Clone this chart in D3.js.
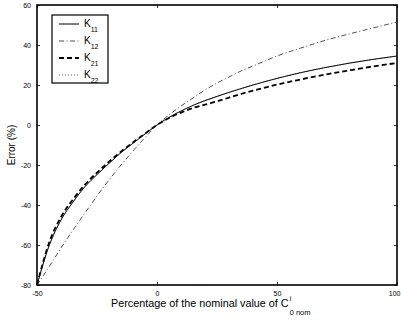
<!DOCTYPE html>
<html>
<head>
<meta charset="utf-8">
<script src="https://cdn.jsdelivr.net/npm/d3@7"></script>
<style>
  html, body { margin: 0; padding: 0; background: #fff; }
  svg { display: block; font-family: "Liberation Sans", Arial, sans-serif; }
</style>
</head>
<body>
<div id="chart"></div>
<script>
// percentage of nominal value (x) and error (%) per gain
const xs  = [-50, -45, -40, -35, -30, -25, -20, -15, -10, -5, 0, 5, 10, 15, 20, 25, 30, 35, 40, 45, 50, 60, 70, 80, 90, 100];
const k11 = [-80, -60.5, -47.5, -38.5, -30.8, -24.8, -19.2, -13.8, -9.1, -4.5, 0, 3.8, 7, 9.8, 12.2, 14.3, 16.3, 18.2, 20, 21.7, 23.3, 26.2, 28.7, 30.9, 32.8, 34.5];
const k12 = [-80, -71, -61.5, -52.5, -44, -35.5, -27.5, -20, -13, -6.3, 0, 5, 9.5, 13.5, 17.5, 21, 24, 27, 29.5, 32, 34.5, 38.5, 42.3, 45.5, 48.5, 51.5];
const k21 = [-80, -59, -46, -37.2, -29.8, -23.8, -18.4, -13.3, -8.7, -4.3, 0, 3.5, 6.2, 8.5, 10.2, 11.8, 13.7, 15.5, 17.2, 18.7, 20.2, 22.8, 25.2, 27.3, 29.3, 31];
const k22 = [-80, -60.5, -47.5, -38.5, -30.8, -24.8, -19.2, -13.8, -9.1, -4.5, 0, 3.8, 7, 9.8, 12.2, 14.3, 16.3, 18.2, 20, 21.7, 23.3, 26.2, 28.7, 30.9, 32.8, 34.5];

const xTicks = [-50, 0, 50, 100];
const yTicks = [-80, -60, -40, -20, 0, 20, 40, 60];

const series = [
  { name: '11', values: k11, dash: null, width: 1, color: '#000' },
  { name: '12', values: k12, dash: '5,2.5,1,2.5', width: 0.8, color: '#222' },
  { name: '21', values: k21, dash: '5,3', width: 1.8, color: '#000' },
  { name: '22', values: k22, dash: '1,2', width: 0.8, color: '#333' }
];

const W = 401, H = 323;
const margin = { top: 5, right: 4, bottom: 38, left: 37 };

const svg = d3.select('#chart').append('svg')
  .attr('width', W)
  .attr('height', H);

const x = d3.scaleLinear().domain([-50, 100]).range([margin.left, W - margin.right]);
const y = d3.scaleLinear().domain([-80, 60]).range([H - margin.bottom, margin.top]);

const fmt = d => String(d);

// axes with inward ticks on all four sides
const gx = svg.append('g')
  .attr('transform', `translate(0,${y(-80)})`)
  .call(d3.axisBottom(x).tickValues(xTicks).tickSize(-3).tickPadding(6).tickFormat(fmt));
const gxTop = svg.append('g')
  .attr('transform', `translate(0,${y(60)})`)
  .call(d3.axisTop(x).tickValues(xTicks).tickSize(-3).tickFormat(''));
const gy = svg.append('g')
  .attr('transform', `translate(${x(-50)},0)`)
  .call(d3.axisLeft(y).tickValues(yTicks).tickSize(-3).tickPadding(6).tickFormat(fmt));
const gyRight = svg.append('g')
  .attr('transform', `translate(${x(100)},0)`)
  .call(d3.axisRight(y).tickValues(yTicks).tickSize(-3).tickFormat(''));

[gx, gxTop, gy, gyRight].forEach(g => {
  g.select('.domain').remove();
  g.selectAll('.tick line').attr('stroke', '#000').attr('stroke-width', 0.8);
  g.selectAll('.tick text')
    .attr('fill', '#000')
    .attr('font-size', '7px')
    .attr('font-family', '"Liberation Sans", Arial, sans-serif');
});

// last x label sits against the right edge
gx.selectAll('.tick text').filter(d => d === 100)
  .attr('text-anchor', 'end')
  .attr('dx', 3);

// plot box
svg.append('rect')
  .attr('x', x(-50))
  .attr('y', y(60))
  .attr('width', x(100) - x(-50))
  .attr('height', y(-80) - y(60))
  .attr('fill', 'none')
  .attr('stroke', '#000')
  .attr('stroke-width', 1.6);

// curves
const line = d3.line()
  .x((d, i) => x(xs[i]))
  .y(d => y(d))
  .curve(d3.curveMonotoneX);

svg.append('g')
  .selectAll('path')
  .data(series)
  .join('path')
  .attr('d', d => line(d.values))
  .attr('fill', 'none')
  .attr('stroke', d => d.color)
  .attr('stroke-width', d => d.width)
  .attr('stroke-dasharray', d => d.dash);

// legend
const legend = svg.append('g');
legend.append('rect')
  .attr('x', 52)
  .attr('y', 15)
  .attr('width', 56)
  .attr('height', 68)
  .attr('fill', '#fff')
  .attr('stroke', '#000')
  .attr('stroke-width', 1.2);

series.forEach((s, i) => {
  const ly = 24 + i * 17;
  legend.append('line')
    .attr('x1', 59).attr('x2', 79)
    .attr('y1', ly).attr('y2', ly)
    .attr('stroke', s.color)
    .attr('stroke-width', s.width)
    .attr('stroke-dasharray', s.dash);
  const t = legend.append('text')
    .attr('x', 84)
    .attr('y', ly + 3)
    .attr('font-size', '10px')
    .attr('fill', '#000');
  t.append('tspan').text('K');
  t.append('tspan').attr('dy', 5).attr('font-size', '7px').text(s.name);
});

// y-axis label
svg.append('text')
  .attr('transform', `translate(15,${(y(60) + y(-80)) / 2}) rotate(-90)`)
  .attr('text-anchor', 'middle')
  .attr('font-size', '10px')
  .attr('fill', '#000')
  .text('Error (%)');

// x-axis label with C^i_{0 nom}
const xl = svg.append('text')
  .attr('x', 111)
  .attr('y', 307)
  .attr('font-size', '10.8px')
  .attr('fill', '#000')
  .text('Percentage of the nominal value of C');
const endX = 111 + xl.node().getComputedTextLength();
svg.append('text')
  .attr('x', endX + 1)
  .attr('y', 301)
  .attr('font-size', '7px')
  .attr('fill', '#000')
  .text('i');
svg.append('text')
  .attr('x', endX + 1)
  .attr('y', 315)
  .attr('font-size', '7.5px')
  .attr('fill', '#000')
  .text('0 nom');
</script>
</body>
</html>
